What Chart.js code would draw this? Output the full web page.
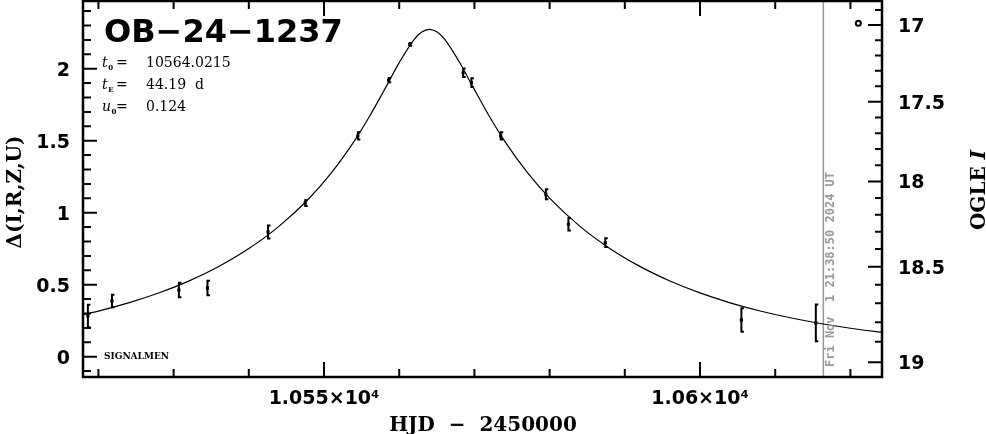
<!DOCTYPE html>
<html>
<head>
<meta charset="utf-8">
<script src="https://cdn.jsdelivr.net/npm/chart.js@4/dist/chart.umd.min.js"></script>
<style>
  html, body { margin: 0; padding: 0; background: #fff; }
  canvas { display: block; }
</style>
</head>
<body>
<canvas id="lc" width="986" height="434"></canvas>
<script>
// observations: HJD - 2450000, delta mag, error
var obsT   = [10518.6, 10521.8, 10530.7, 10534.5, 10542.55, 10547.5, 10554.5, 10558.6, 10561.4,
              10568.5, 10569.6, 10573.5, 10579.5, 10582.5, 10587.4, 10605.5, 10615.4];
var obsD   = [0.283, 0.387, 0.463, 0.477, 0.866, 1.067, 1.533, 1.92, 2.169,
              1.972, 1.903, 1.533, 1.128, 0.92, 0.792, 0.255, 0.235];
var obsErr = [0.078, 0.043, 0.05, 0.05, 0.045, 0.02, 0.025, 0.015, 0.01,
              0.03, 0.03, 0.025, 0.035, 0.043, 0.031, 0.081, 0.127];

// model curve
var curveT = [10516, 10520, 10524, 10528, 10532, 10536, 10540, 10544, 10548, 10551, 10554, 10556,
              10558, 10560, 10562, 10563, 10564, 10565, 10566, 10568, 10570, 10572, 10574, 10577,
              10580, 10584, 10588, 10592, 10596, 10600, 10604, 10608, 10612, 10616, 10620, 10624, 10628];
var curveD = [0.2697, 0.3168, 0.3735, 0.4420, 0.5250, 0.6261, 0.7505, 0.9048, 1.0988, 1.2785, 1.4957, 1.6641,
              1.8502, 2.0421, 2.2042, 2.2543, 2.2727, 2.2558, 2.2070, 2.0461, 1.8544, 1.6680, 1.4991, 1.2814,
              1.1012, 0.9067, 0.7520, 0.6273, 0.5259, 0.4428, 0.3742, 0.3174, 0.2702, 0.2307, 0.1977, 0.1700, 0.1466];

// little circle top right
var markT = [10621.05];
var markD = [2.315];

// tick labels
var xTickLabels = { 10550: '1.055×10⁴', 10600: '1.06×10⁴' };
var rightMags = [16.9, 17.0, 17.1, 17.2, 17.3, 17.4, 17.5, 17.6, 17.7, 17.8, 17.9, 18.0,
                 18.1, 18.2, 18.3, 18.4, 18.5, 18.6, 18.7, 18.8, 18.9, 19.0];

// OGLE I <-> delta conversion (baseline + blend)
var baseMag = 19, blendFlux = 0.305, deltaOffset = 0.357;
function magToDelta(m) {
  return 2.5 * Math.log10(Math.pow(10, -0.4 * (m - baseMag)) - blendFlux) + deltaOffset;
}

var nowT = 10616.40; // Fri Nov 1 21:38:50 2024 UT

function isHalf(v) { return Math.abs(v * 2 - Math.round(v * 2)) < 1e-6; }

var tickFont = { family: 'DejaVu Sans', size: 19, weight: 'bold' };

function noPad(s) { s.paddingTop = 0; s.paddingBottom = 0; s.paddingLeft = 0; s.paddingRight = 0; }

// error bars + "now" line, drawn under the marks
var underlay = {
  id: 'underlay',
  beforeDatasetsDraw: function(chart) {
    var c = chart.ctx, a = chart.chartArea, xs = chart.scales.x, ys = chart.scales.y;
    c.save();
    c.beginPath();
    c.rect(a.left, a.top, a.right - a.left, a.bottom - a.top);
    c.clip();
    var nx = xs.getPixelForValue(nowT);
    c.strokeStyle = '#999';
    c.lineWidth = 1.5;
    c.beginPath();
    c.moveTo(nx, a.top); c.lineTo(nx, a.bottom);
    c.stroke();

    c.strokeStyle = '#000';
    c.lineWidth = 2;
    c.beginPath();
    for (var i = 0; i < obsT.length; i++) {
      var px = xs.getPixelForValue(obsT[i]);
      var y1 = ys.getPixelForValue(obsD[i] + obsErr[i]);
      var y2 = ys.getPixelForValue(obsD[i] - obsErr[i]);
      c.moveTo(px, y1); c.lineTo(px, y2);
      c.moveTo(px - 1, y1); c.lineTo(px + 2.5, y1);
      c.moveTo(px - 1, y2); c.lineTo(px + 2.5, y2);
    }
    c.stroke();
    c.restore();
  }
};

// frame, inward ticks and all the text
var overlay = {
  id: 'overlay',
  afterDraw: function(chart) {
    var c = chart.ctx, a = chart.chartArea, s = chart.scales;
    c.save();
    c.strokeStyle = '#000';
    c.lineWidth = 2;
    c.beginPath();
    s.x.ticks.forEach(function(t) {
      var px = s.x.getPixelForValue(t.value);
      var len = t.label ? 15 : 8;
      c.moveTo(px, a.bottom); c.lineTo(px, a.bottom - len);
      c.moveTo(px, a.top); c.lineTo(px, a.top + len);
    });
    s.y.ticks.forEach(function(t) {
      var py = s.y.getPixelForValue(t.value);
      var len = t.label ? 14 : 8;
      c.moveTo(a.left, py); c.lineTo(a.left + len, py);
    });
    s.y2.ticks.forEach(function(t) {
      var py = s.y2.getPixelForValue(t.value);
      var len = t.label ? 14 : 7;
      c.moveTo(a.right, py); c.lineTo(a.right - len, py);
    });
    c.stroke();

    c.lineWidth = 2.5;
    c.strokeRect(a.left, a.top, a.right - a.left, a.bottom - a.top);

    c.fillStyle = '#000';
    // title
    c.font = 'bold 32px "DejaVu Sans"';
    c.textAlign = 'left';
    c.textBaseline = 'alphabetic';
    c.fillText('OB\u221224\u22121237', 104, 42);

    // fit parameters
    function param(y, sym, sub, val) {
      c.font = 'italic 14px "DejaVu Serif"';
      c.fillText(sym, 102, y);
      var w = c.measureText(sym).width;
      c.font = 'bold 7px "DejaVu Serif"';
      c.fillText(sub, 102 + w + 0.5, y + 3);
      c.font = '14px "DejaVu Serif"';
      c.fillText('=', 116, y);
      c.fillText(val, 146, y);
    }
    param(67, 't', '0', '10564.0215');
    param(89, 't', 'E', '44.19  d');
    param(111, 'u', '0', '0.124');

    c.font = 'bold 9px "DejaVu Serif"';
    c.fillText('SIGNALMEN', 104, 359);

    // axis titles
    c.font = 'bold 20px "DejaVu Serif"';
    c.textAlign = 'center';
    c.fillText('HJD  \u2212  2450000', 483, 431);

    c.save();
    c.translate(21, 192);
    c.rotate(-Math.PI / 2);
    c.fillText('\u0394(I,R,Z,U)', 0, 0);
    c.restore();

    c.save();
    c.translate(985, 190);
    c.rotate(-Math.PI / 2);
    c.textAlign = 'left';
    c.font = 'bold 20px "DejaVu Serif"';
    var w1 = c.measureText('OGLE ').width;
    c.font = 'bold italic 20px "DejaVu Serif"';
    var w2 = c.measureText('I').width;
    c.font = 'bold 20px "DejaVu Serif"';
    c.fillText('OGLE ', -(w1 + w2) / 2, 0);
    c.font = 'bold italic 20px "DejaVu Serif"';
    c.fillText('I', -(w1 + w2) / 2 + w1, 0);
    c.restore();

    // date stamp along the "now" line
    c.save();
    c.translate(s.x.getPixelForValue(nowT) + 8, 367);
    c.rotate(-Math.PI / 2);
    c.fillStyle = '#999';
    c.font = 'bold 12px "DejaVu Sans Mono"';
    c.textAlign = 'left';
    c.textBaseline = 'middle';
    c.fillText('Fri Nov  1 21:38:50 2024 UT', 0, 0);
    c.restore();

    c.restore();
  }
};

new Chart(document.getElementById('lc'), {
  type: 'line',
  data: {
    datasets: [{
      label: 'model',
      data: curveT.map(function(t, i) { return { x: t, y: curveD[i] }; }),
      borderColor: '#000',
      borderWidth: 1.2,
      pointRadius: 0,
      cubicInterpolationMode: 'monotone',
      fill: false
    }, {
      label: 'OGLE',
      data: obsT.map(function(t, i) { return { x: t, y: obsD[i] }; }),
      showLine: false,
      pointStyle: 'rect',
      pointRadius: 2.2,
      backgroundColor: '#000',
      borderColor: '#000',
      borderWidth: 0
    }, {
      label: 'mark',
      data: markT.map(function(t, i) { return { x: t, y: markD[i] }; }),
      showLine: false,
      pointStyle: 'circle',
      pointRadius: 2.5,
      backgroundColor: '#fff',
      borderColor: '#000',
      borderWidth: 2
    }]
  },
  options: {
    responsive: false,
    animation: false,
    devicePixelRatio: 1,
    layout: { autoPadding: false, padding: { top: 1, left: 0, right: 0, bottom: 0 } },
    plugins: { legend: { display: false }, tooltip: { enabled: false } },
    scales: {
      x: {
        type: 'linear',
        position: 'bottom',
        min: 10517.95,
        max: 10624.2,
        grid: { display: false, drawTicks: false },
        border: { display: false },
        afterFit: function(s) { s.height = 57; noPad(s); },
        ticks: {
          stepSize: 10,
          includeBounds: false,
          autoSkip: false,
          maxRotation: 0,
          padding: 11,
          color: '#000',
          font: tickFont,
          callback: function(v) {
            for (var k in xTickLabels) {
              if (Math.abs(v - Number(k)) < 1e-6) return xTickLabels[k];
            }
            return '';
          }
        }
      },
      y: {
        position: 'left',
        min: -0.141,
        max: 2.470,
        grid: { display: false, drawTicks: false },
        border: { display: false },
        afterFit: function(s) { s.width = 83; noPad(s); },
        ticks: {
          stepSize: 0.1,
          includeBounds: false,
          autoSkip: false,
          padding: 13,
          labelOffset: 2,
          color: '#000',
          font: tickFont,
          callback: function(v) { return isHalf(v) ? String(Math.round(v * 2) / 2) : ''; }
        }
      },
      y2: {
        position: 'right',
        min: -0.141,
        max: 2.470,
        grid: { display: false, drawTicks: false },
        border: { display: false },
        afterFit: function(s) { s.width = 104; noPad(s); },
        afterBuildTicks: function(s) {
          s.ticks = rightMags.map(function(m) { return { value: magToDelta(m), mag: m }; });
        },
        ticks: {
          autoSkip: false,
          padding: 16,
          labelOffset: 2,
          color: '#000',
          font: tickFont,
          callback: function(v, i, ticks) {
            var m = ticks[i].mag;
            return isHalf(m) ? String(Math.round(m * 2) / 2) : '';
          }
        }
      }
    }
  },
  plugins: [underlay, overlay]
});
</script>
</body>
</html>
